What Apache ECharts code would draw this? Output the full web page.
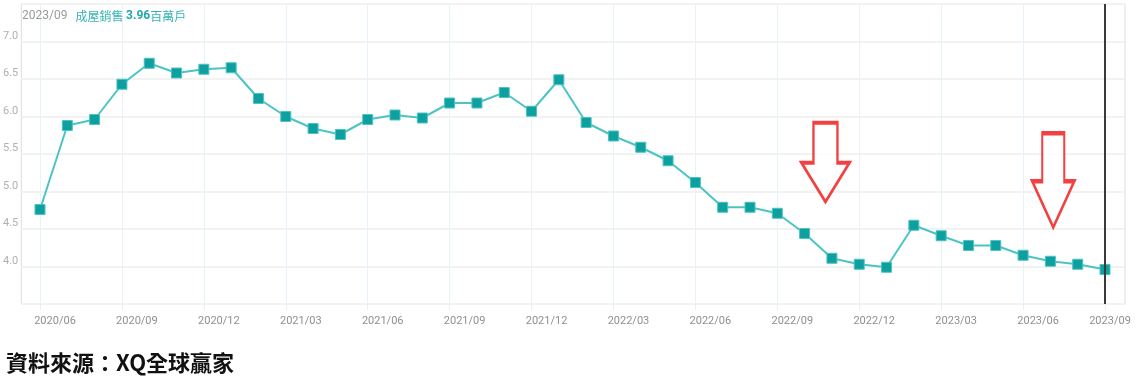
<!DOCTYPE html>
<html><head><meta charset="utf-8">
<script src="https://cdn.jsdelivr.net/npm/echarts@6/dist/echarts.min.js"></script>
<style>html,body{margin:0;padding:0;background:#fff;}#c{width:1138px;height:386px;}</style>
</head><body><div id="c"></div>
<script>
const categories = [
 '2020/06','2020/07','2020/08','2020/09','2020/10','2020/11','2020/12',
 '2021/01','2021/02','2021/03','2021/04','2021/05','2021/06','2021/07','2021/08','2021/09','2021/10','2021/11','2021/12',
 '2022/01','2022/02','2022/03','2022/04','2022/05','2022/06','2022/07','2022/08','2022/09','2022/10','2022/11','2022/12',
 '2023/01','2023/02','2023/03','2023/04','2023/05','2023/06','2023/07','2023/08','2023/09'
];
const homeSales = [4.76,5.88,5.96,6.43,6.71,6.58,6.63,6.65,6.24,6.00,5.84,5.76,5.96,6.02,5.98,6.18,6.18,6.32,6.07,6.49,
 5.92,5.74,5.59,5.41,5.12,4.79,4.79,4.71,4.44,4.11,4.03,3.99,4.55,4.41,4.28,4.28,4.15,4.07,4.03,3.96];
const yTicks = [3.5,4.0,4.5,5.0,5.5,6.0,6.5,7.0,7.5];
const titleDate = '2023/09';
const titleSeries = '成屋銷售';
const titleValue = '3.96';
const titleUnit = '百萬戶';
const sourceText = '資料來源：XQ全球贏家';
// annotation arrows: [month index, value]
const arrowPoints = [[28.75, 5.39], [37.1, 5.15]];

const arrowPaths = [
  'path://M12,0 L36,0 L36,40 L48,40 L24,79 L0,40 L12,40 Z',
  'path://M10,0 L32,0 L32,48 L42,48 L21,94 L0,48 L10,48 Z'
];
const arrowSizes = [[48,79],[42,94]];
const sans = 'Roboto, "Noto Sans", sans-serif';

const chart = echarts.init(document.getElementById('c'), null, {renderer:'canvas'});
const lastIdx = categories.length - 1;
chart.setOption({
  animation: false,
  backgroundColor: '#fff',
  title: [{
    left: 17, top: 5,
    text: '{d|' + titleDate + '}{s|' + titleSeries + ' }{v|' + titleValue + '}{u|' + titleUnit + '}',
    textStyle: {
      fontWeight: 'normal',
      rich: {
        d: {fontFamily: sans, fontSize: 12, fontWeight: 'normal', color: '#9a9a9a', padding: [0,8,0,0]},
        s: {fontFamily: 'Noto Sans CJK TC', fontSize: 12, fontWeight: 'normal', color: '#35b4b4'},
        v: {fontFamily: sans, fontSize: 12, fontWeight: 'bold', color: '#22a9a9'},
        u: {fontFamily: 'Noto Sans CJK TC', fontSize: 12, fontWeight: 'normal', color: '#35b4b4'}
      }
    }
  }, {
    left: 1, top: 347,
    text: sourceText,
    textStyle: {fontFamily: 'Noto Sans CJK TC', fontSize: 22, fontWeight: 'bold', color: '#111'}
  }],
  grid: [
    {left: 40, right: 33, top: 4, bottom: 82, show: false},
    {left: 20, right: 13, top: 4, bottom: 82, show: true, borderColor: '#dcdcdc', borderWidth: 1, backgroundColor: 'transparent'}
  ],
  xAxis: [{
    type: 'category', gridIndex: 0, data: categories, boundaryGap: false,
    axisLine: {show: false},
    axisTick: {show: true, interval: 2, length: 6, lineStyle: {color: '#e3f1f7'}},
    splitLine: {show: true, interval: 2, lineStyle: {color: '#e6f3f9', width: 1}},
    axisLabel: {
      interval: 2, margin: 12,
      formatter: function (v, i) { return i === lastIdx ? '{b|' + v + '}' : '{a|' + v + '}'; },
      rich: {
        a: {fontFamily: sans, fontSize: 11, color: '#8f8f8f', padding: [0,0,0,30]},
        b: {fontFamily: sans, fontSize: 11, color: '#8f8f8f', padding: [0,0,0,10]}
      }
    }
  }, {
    type: 'value', gridIndex: 1, min: -0.73, max: 39.73, show: false
  }],
  yAxis: [{
    type: 'value', gridIndex: 0, min: yTicks[0], max: yTicks[yTicks.length-1], interval: 0.5, show: false
  }, {
    type: 'value', gridIndex: 1, min: yTicks[0], max: yTicks[yTicks.length-1], interval: 0.5,
    axisLine: {show: false}, axisTick: {show: false},
    splitLine: {show: true, lineStyle: {color: '#f2f2f2', width: 2}},
    axisLabel: {
      showMinLabel: false, showMaxLabel: false, margin: 3,
      verticalAlign: 'bottom',
      fontFamily: sans, fontSize: 11, color: '#b0b0b0',
      formatter: function (v) { return v.toFixed(1); }
    }
  }],
  series: [{
    type: 'line', xAxisIndex: 0, yAxisIndex: 0, data: homeSales,
    symbol: 'rect', symbolSize: 10,
    lineStyle: {color: '#4cc4c4', width: 2},
    itemStyle: {color: '#0e9f9f', borderColor: '#4cc4c4', borderWidth: 1},
    markLine: {
      silent: true, symbol: 'none', label: {show: false},
      lineStyle: {color: '#3a3a3a', width: 2, type: 'solid'},
      data: [{xAxis: lastIdx}]
    },
    z: 3
  }, {
    type: 'scatter', xAxisIndex: 1, yAxisIndex: 1,
    data: arrowPoints.map(function (p, i) {
      return {value: p, symbol: arrowPaths[i], symbolSize: arrowSizes[i]};
    }),
    itemStyle: {color: '#ffffff', borderColor: '#f01010', borderWidth: 3},
    z: 4
  }]
});
</script>
</body></html>
